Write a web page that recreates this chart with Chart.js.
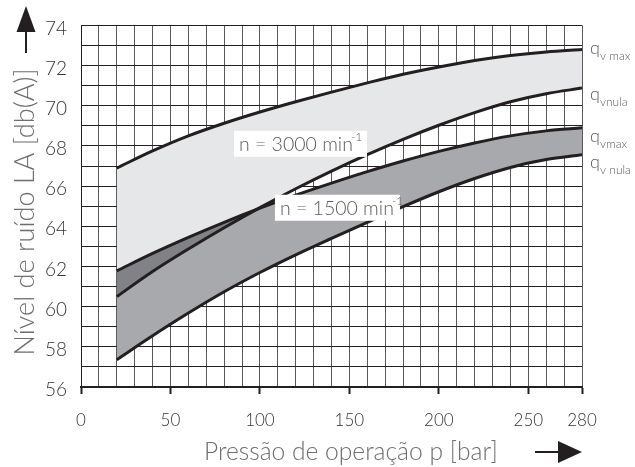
<!DOCTYPE html>
<html>
<head>
<meta charset="utf-8">
<script src="https://cdn.jsdelivr.net/npm/chart.js@4.4.1/dist/chart.umd.min.js"></script>
<style>
  html, body { margin: 0; padding: 0; background: #fff; }
  #wrap { width: 635px; height: 467px; }
</style>
</head>
<body>
<div id="wrap"><canvas id="noiseChart" width="635" height="467"></canvas></div>
<script>
// pressão de operação (bar)
var pressure = [20, 40, 60, 80, 100, 120, 140, 160, 180, 200, 220, 240, 260, 280];

// n = 3000 min-1
var qvmax3000  = [66.9, 67.75, 68.5, 69.13, 69.69, 70.2, 70.68, 71.14, 71.57, 71.93, 72.25, 72.5, 72.68, 72.8];
var qvnula3000 = [60.5, 61.75, 62.87, 63.93, 64.93, 65.87, 66.75, 67.57, 68.33, 69.03, 69.66, 70.2, 70.6, 70.88];

// n = 1500 min-1
var qvmax1500  = [61.78, 62.65, 63.45, 64.2, 64.9, 65.55, 66.15, 66.72, 67.25, 67.73, 68.15, 68.5, 68.75, 68.9];
var qvnula1500 = [57.36, 58.55, 59.68, 60.74, 61.7, 62.58, 63.4, 64.2, 64.98, 65.72, 66.38, 66.93, 67.32, 67.56];

var xTickLabels = [0, 50, 100, 150, 200, 250, 280];
var yTickLabels = [56, 58, 60, 62, 64, 66, 68, 70, 72, 74];

// rótulos das curvas (lado direito)
var curveSubs = ['v max', 'vnula', 'vmax', 'v nula'];
var curveLabelY = [72.82, 70.55, 68.46, 67.14];

// rótulos de rotação
var speedLabels = ['n = 3000 min', 'n = 1500 min'];
var speedLabelX = [85.5, 108.4];
var speedLabelY = [68.75, 65.57];

var xTitle = 'Pressão de operação p [bar]';
var yTitle = 'Nível de ruído LA [db(A)]';

var INK = '#231f20';
var FONT = 'Lato, "DejaVu Sans", sans-serif';

function toPoints(values) {
    return values.map(function (v, i) {
        return { x: pressure[i], y: v };
    });
}

function fitFont(ctx, text, width, weight) {
    ctx.font = weight + ' 24px ' + FONT;
    var size = 24 * width / ctx.measureText(text).width;
    ctx.font = weight + ' ' + size.toFixed(1) + 'px ' + FONT;
    return size;
}

var overlay = {
    id: 'overlay',
    afterDraw: function (chart) {
        var ctx = chart.ctx;
        var xs = chart.scales.x;
        var ys = chart.scales.y;
        var area = chart.chartArea;
        ctx.save();

        // caixas "n = ... min-1"
        var boxW = [133, 125];
        var fitW = [114, 114];
        for (var i = 0; i < speedLabels.length; i++) {
            var bx = xs.getPixelForValue(speedLabelX[i]);
            var by = ys.getPixelForValue(speedLabelY[i]);
            ctx.fillStyle = '#ffffff';
            ctx.fillRect(bx, by, boxW[i], 26);
            ctx.fillStyle = '#5b5b5e';
            ctx.textBaseline = 'alphabetic';
            ctx.textAlign = 'left';
            fitFont(ctx, speedLabels[i], fitW[i], '300');
            ctx.fillText(speedLabels[i], bx + 5, by + 20);
            var tw = ctx.measureText(speedLabels[i]).width;
            ctx.font = '300 12px ' + FONT;
            ctx.fillText('-1', bx + 5 + tw - 2, by + 10);
        }

        // rótulos q à direita
        ctx.fillStyle = '#5b5b5e';
        ctx.textAlign = 'left';
        ctx.textBaseline = 'alphabetic';
        for (var j = 0; j < curveSubs.length; j++) {
            var py = ys.getPixelForValue(curveLabelY[j]) + 5;
            ctx.font = '300 18px ' + FONT;
            ctx.fillText('q', area.right + 8, py);
            ctx.font = '300 12px ' + FONT;
            ctx.fillText(curveSubs[j], area.right + 18, py + 6);
        }

        // título do eixo x
        ctx.fillStyle = '#6d6e71';
        ctx.textAlign = 'left';
        ctx.textBaseline = 'middle';
        fitFont(ctx, xTitle, 294, '300');
        ctx.fillText(xTitle, 204, 452);

        // título do eixo y
        ctx.save();
        ctx.translate(25, 212);
        ctx.rotate(-Math.PI / 2);
        ctx.textAlign = 'center';
        fitFont(ctx, yTitle, 287, '300');
        ctx.fillText(yTitle, 0, 0);
        ctx.restore();

        // setas
        ctx.fillStyle = INK;
        ctx.fillRect(25, 30, 2, 23);
        ctx.beginPath();
        ctx.moveTo(26, 6);
        ctx.lineTo(35.5, 32);
        ctx.lineTo(16.5, 32);
        ctx.closePath();
        ctx.fill();

        ctx.fillRect(535, 451, 25, 2);
        ctx.beginPath();
        ctx.moveTo(582, 452);
        ctx.lineTo(558, 441);
        ctx.lineTo(558, 463);
        ctx.closePath();
        ctx.fill();

        ctx.restore();
    }
};

var lineStyle = {
    borderColor: INK,
    borderWidth: 3,
    pointRadius: 0,
    cubicInterpolationMode: 'monotone'
};

var noiseChart = new Chart(document.getElementById('noiseChart'), {
    type: 'line',
    data: {
        datasets: [
            Object.assign({ data: toPoints(qvmax3000), fill: 1, backgroundColor: '#e6e7e8', order: 3 }, lineStyle),
            Object.assign({ data: toPoints(qvnula3000), fill: { target: 2, above: 'rgba(0,0,0,0)', below: '#808285' }, order: 1 }, lineStyle),
            Object.assign({ data: toPoints(qvmax1500), fill: 3, backgroundColor: '#a7a9ac', order: 2 }, lineStyle),
            Object.assign({ data: toPoints(qvnula1500), fill: false, order: 0 }, lineStyle)
        ]
    },
    options: {
        responsive: false,
        animation: false,
        devicePixelRatio: 1,
        layout: { padding: { top: 7, right: 53, bottom: 0, left: 0 } },
        plugins: {
            legend: { display: false },
            tooltip: { enabled: false },
            filler: { drawTime: 'beforeDatasetsDraw' }
        },
        scales: {
            x: {
                type: 'linear',
                min: 0,
                max: 280,
                z: 1,
                afterFit: function (scale) { scale.height = 80; },
                border: { color: INK, width: 2 },
                grid: {
                    color: '#58595b',
                    lineWidth: 1,
                    tickLength: 7,
                    tickWidth: 2,
                    tickColor: function (c) {
                        return xTickLabels.indexOf(c.tick.value) >= 0 ? INK : 'rgba(0,0,0,0)';
                    }
                },
                ticks: {
                    stepSize: 10,
                    autoSkip: false,
                    maxRotation: 0,
                    padding: 16,
                    color: '#333',
                    font: { family: FONT, size: 17, weight: '300' },
                    callback: function (v) {
                        return xTickLabels.indexOf(v) >= 0 ? String(v) : '';
                    }
                }
            },
            y: {
                type: 'linear',
                min: 56,
                max: 74,
                z: 1,
                afterFit: function (scale) { scale.width = 81; },
                border: { color: INK, width: 1 },
                grid: { color: INK, lineWidth: 1, drawTicks: false },
                ticks: {
                    stepSize: 1,
                    autoSkip: false,
                    padding: 14,
                    labelOffset: 3,
                    color: '#333',
                    font: { family: FONT, size: 19, weight: '300' },
                    callback: function (v) {
                        return yTickLabels.indexOf(v) >= 0 ? String(v) : '';
                    }
                }
            }
        }
    },
    plugins: [overlay]
});
</script>
</body>
</html>
